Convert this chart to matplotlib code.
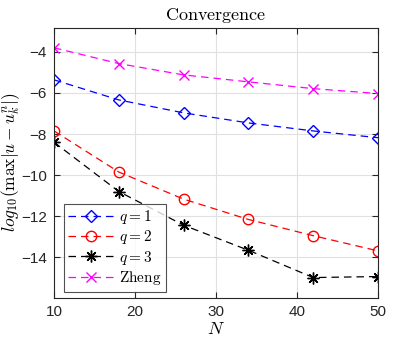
import matplotlib
matplotlib.use("Agg")
import matplotlib.pyplot as plt

plt.rcParams['mathtext.fontset'] = 'cm'
plt.rcParams['font.family'] = ['Liberation Sans', 'DejaVu Sans']

N = [10, 18, 26, 34, 42, 50]
q1 = [-5.36, -6.34, -6.97, -7.46, -7.85, -8.18]
q2 = [-7.85, -9.85, -11.17, -12.16, -12.95, -13.69]
q3 = [-8.40, -10.80, -12.44, -13.66, -14.99, -14.94]
zheng = [-3.80, -4.57, -5.12, -5.46, -5.79, -6.03]
labels = ['$q=1$', '$q=2$', '$q=3$', r'$\mathrm{Zheng}$']

fig = plt.figure(figsize=(4.17, 3.48), dpi=100)
ax = fig.add_axes([0.1295, 0.1428, 0.777, 0.776])

dash = (0, (6, 4))
ax.plot(N, q1, color='#0000ff', linestyle=dash, lw=0.9, marker='D', ms=6,
        mfc='none', mew=1.0, label=labels[0])
ax.plot(N, q2, color='#ff0000', linestyle=dash, lw=0.9, marker='o', ms=7.5,
        mfc='none', mew=1.0, label=labels[1])
ax.plot(N, q3, color='black', linestyle=dash, lw=0.9, marker=(8, 2, 0), ms=8.5,
        mew=1.0, label=labels[2])
ax.plot(N, zheng, color='#ff00ff', linestyle=dash, lw=0.9, marker='x', ms=7.5,
        mew=1.0, label=labels[3])

ax.set_xlim(10, 50)
ax.set_ylim(-16, -2.85)
ax.set_xticks([10, 20, 30, 40, 50])
ax.set_yticks([-14, -12, -10, -8, -6, -4])
ax.grid(True, color='#e0e0e0', lw=0.8)
ax.set_axisbelow(True)
ax.tick_params(direction='in', top=True, right=True, labelsize=11, length=4,
               color='#262626', labelcolor='#262626', pad=5)
for s in ax.spines.values():
    s.set_color('#262626')
    s.set_linewidth(0.8)

ax.set_title(r'$\mathrm{Convergence}$', fontsize=13, pad=6)
ax.set_xlabel('$N$', fontsize=13, labelpad=1)
ax.set_ylabel(r'$log_{10}(\max|u-u_k^n|)$', fontsize=12.5, labelpad=2)
ax.yaxis.set_label_coords(-0.099, 0.505)

leg = ax.legend(loc='lower left', bbox_to_anchor=(0.03, 0.025), fontsize=11,
                frameon=True, fancybox=False, edgecolor='#262626',
                handlelength=3.0, borderpad=0.3, labelspacing=0.15,
                handletextpad=0.3, borderaxespad=0)
leg.get_frame().set_linewidth(0.8)

fig.savefig('out.png', dpi=100)
